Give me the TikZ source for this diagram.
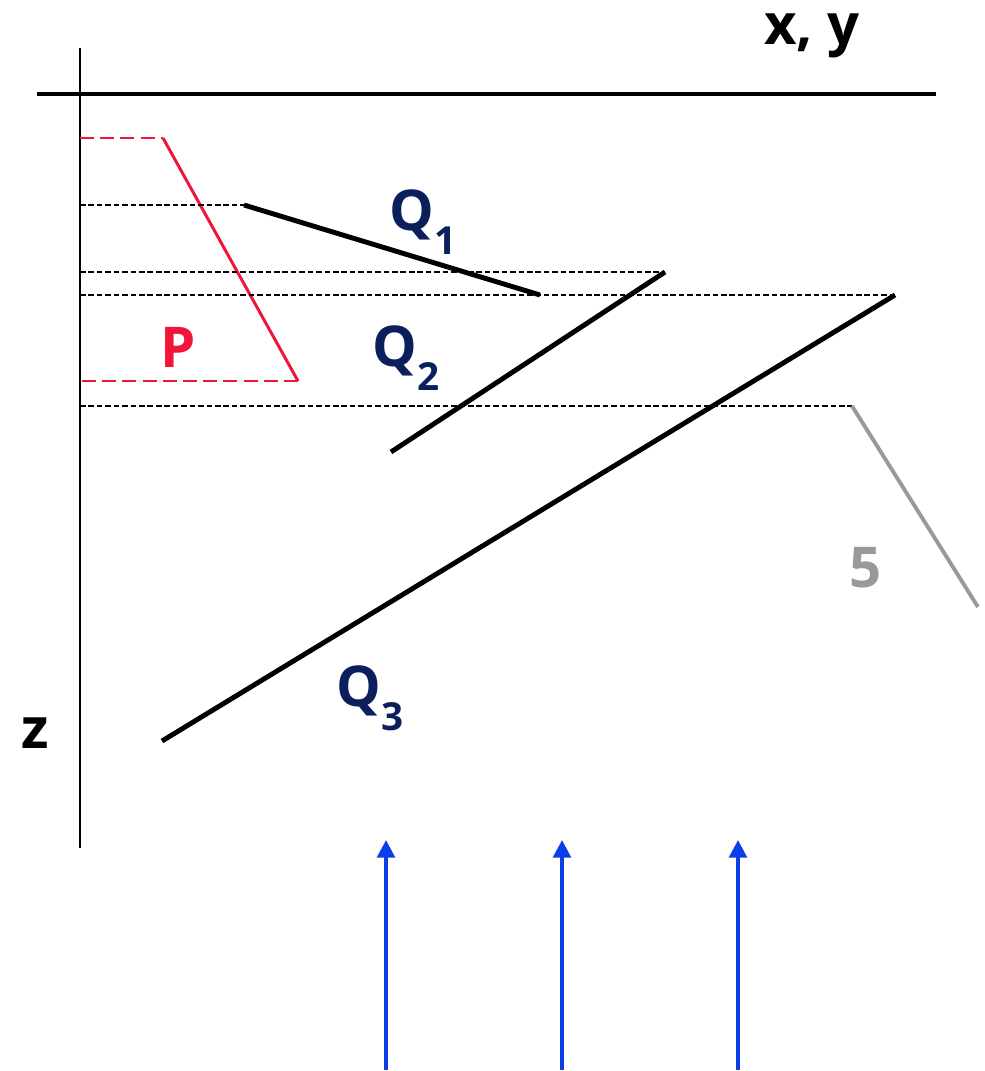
\documentclass[tikz,border=0pt]{standalone}
\usepackage{fontspec}
\setmainfont{Open Sans}
\usetikzlibrary{arrows.meta}
\definecolor{qred}{HTML}{F0153A}
\definecolor{qnavy}{HTML}{0B1F5C}
\definecolor{qblue}{HTML}{0A3FE8}
\definecolor{qgray}{HTML}{999999}
\newcommand{\qsub}[1]{\raisebox{-0.42em}{\fontsize{22}{22}\selectfont #1}}
\tikzset{
  axis/.style={draw=black, line width=1.3pt},
  guide/.style={draw=black, line width=1.1pt, dash pattern=on 3.2pt off 1.6pt},
  plane/.style={draw=black, line width=2.8pt},
  lbl/.style={font=\fontsize{32}{32}\selectfont\bfseries, inner sep=0pt},
  ray/.style={draw=qblue, line width=2.1pt, -{Triangle[length=10pt, width=10pt]}},
}
\begin{document}
\begin{tikzpicture}[x=0.02cm, y=-0.02cm]
\useasboundingbox (0,0) rectangle (984,1071);
% axes
\coordinate (ztop) at (80,48);
\coordinate (zbot) at (80,848);
\coordinate (xl) at (37,94);
\coordinate (xr) at (936,94);
\draw[axis] (ztop) -- (zbot);
\draw[axis, line width=1.8pt] (xl) -- (xr);
\node[lbl, anchor=base] (xy) at (812,45) {x, y};
\node[lbl] (z) at (35,733) {z};
% P
\coordinate (p0) at (80,138);
\coordinate (p1) at (163,138);
\coordinate (p2) at (298,381);
\coordinate (p3) at (80,381);
\draw[qred, line width=1.7pt, dash pattern=on 8pt off 3.5pt] (p0) -- (p1);
\draw[qred, line width=1.7pt] (p1) -- (p2);
\draw[qred, line width=1.7pt, dash pattern=on 8pt off 3.5pt] (p2) -- (p3);
\node[lbl, text=qred] (P) at (178,347) {P};
% Q1
\coordinate (a0) at (80,205);
\coordinate (a1) at (244,205);
\coordinate (a2) at (540,295);
\draw[guide] (a0) -- (a1);
\draw[plane] (a1) -- (a2);
\node[lbl, text=qnavy] (Q1) at (423,222) {Q\qsub{1}};
% Q2
\coordinate (b0) at (80,272);
\coordinate (b1) at (665,272);
\coordinate (b2) at (391,452);
\draw[guide] (b0) -- (b1);
\draw[plane] (b1) -- (b2);
\node[lbl, text=qnavy] (Q2) at (406,358) {Q\qsub{2}};
% Q3
\coordinate (c0) at (80,295);
\coordinate (c1) at (895,295);
\coordinate (c2) at (162,741);
\draw[guide] (c0) -- (c1);
\draw[plane] (c1) -- (c2);
\node[lbl, text=qnavy] (Q3) at (370,698) {Q\qsub{3}};
% 5
\coordinate (d0) at (80,406);
\coordinate (d1) at (852,406);
\coordinate (d2) at (978,607);
\draw[guide] (d0) -- (d1);
\draw[draw=qgray, line width=2.2pt] (d1) -- (d2);
\node[lbl, text=qgray] (five) at (866,568) {5};
% rays
\foreach \x [count=\i] in {386,562,738} {
  \coordinate (r\i a) at (\x,1070);
  \coordinate (r\i b) at (\x,840);
  \draw[ray] (r\i a) -- (r\i b);
}
\end{tikzpicture}
\end{document}
